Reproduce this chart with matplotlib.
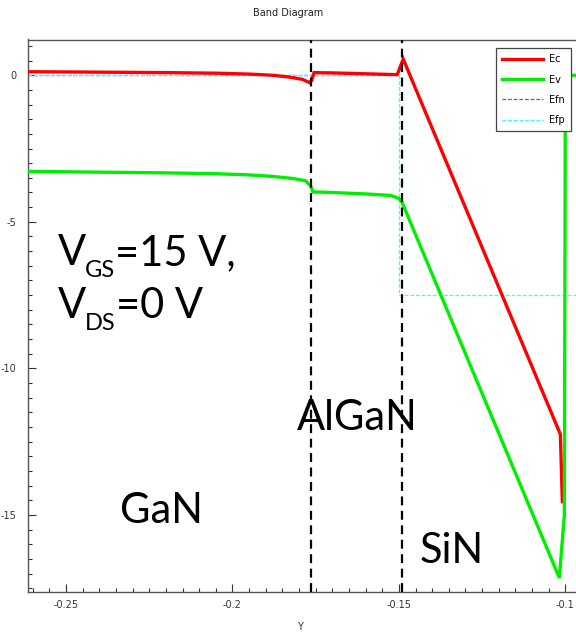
import matplotlib
matplotlib.use("Agg")
import matplotlib.pyplot as plt
from matplotlib.ticker import MultipleLocator, FixedLocator
from matplotlib.lines import Line2D
from matplotlib.transforms import offset_copy

# ---- data ----
ec_x = [-0.2615, -0.245, -0.22, -0.205, -0.195, -0.188, -0.183, -0.179, -0.1768, -0.1762, -0.1755, -0.170, -0.160, -0.1505, -0.1487, -0.1015, -0.1009]
ec_y = [0.12, 0.11, 0.09, 0.07, 0.04, 0.0, -0.06, -0.14, -0.25, -0.18, 0.09, 0.08, 0.05, 0.02, 0.55, -12.25, -14.55]

ev_x = [-0.2615, -0.245, -0.22, -0.205, -0.195, -0.188, -0.182, -0.178, -0.1765, -0.1758, -0.170, -0.160, -0.1525, -0.1500, -0.1490, -0.1018, -0.1003, -0.1000, -0.0920]
ev_y = [-3.28, -3.30, -3.33, -3.36, -3.40, -3.45, -3.52, -3.60, -3.78, -3.98, -4.00, -4.05, -4.10, -4.20, -4.35, -17.15, -15.0, 0.0, 0.0]

efn_x = [-0.2615, -0.1499]
efn_y = [0.0, 0.0]

efp_x = [-0.2615, -0.1499, -0.1499, -0.0920]
efp_y = [0.0, 0.0, -7.5, -7.5]

interfaces = [-0.1763, -0.1492]

x_ticks = [-0.25, -0.2, -0.15, -0.1]
x_ticklabels = ["-0.25", "-0.2", "-0.15", "-0.1"]
y_ticks = [0, -5, -10, -15]
y_ticklabels = ["0", "-5", "-10", "-15"]

W, H = 576, 633
fig = plt.figure(figsize=(W / 100, H / 100), dpi=100)
left_px, right_px, top_px, bot_px = 27.7, 592, 39.5, 592
ax = fig.add_axes([left_px / W, 1 - bot_px / H, (right_px - left_px) / W, (bot_px - top_px) / H])

ax.plot(efn_x, efn_y, color="#5555ff", lw=0.9, ls=(0, (3, 1.5)), zorder=2)
ax.plot(efp_x, efp_y, color="#33ffff", lw=0.9, ls=(0, (3, 1.5)), zorder=2)
ax.plot(ec_x, ec_y, color="#ff0000", lw=2.4, zorder=3, solid_joinstyle="miter")
ax.plot(ev_x, ev_y, color="#00ee00", lw=2.4, zorder=3, solid_joinstyle="miter")
for xv in interfaces:
    ax.axvline(xv, color="black", lw=1.6, ls=(0, (4, 2.5)), zorder=4)

ax.set_xlim(-0.2615, -0.0920)
ax.set_ylim(-17.63, 1.22)

ax.xaxis.set_major_locator(FixedLocator(x_ticks))
ax.set_xticklabels(x_ticklabels)
ax.xaxis.set_minor_locator(MultipleLocator(0.005))
ax.yaxis.set_major_locator(FixedLocator(y_ticks))
ax.set_yticklabels(y_ticklabels)
ax.yaxis.set_minor_locator(MultipleLocator(0.5))
ax.tick_params(which="both", direction="in", colors="#333333", labelsize=7, width=0.8,
               top=False, right=False)
ax.tick_params(which="major", length=6)
ax.tick_params(axis="x", which="major", pad=6)
ax.tick_params(axis="y", which="major", pad=8)
ax.tick_params(which="minor", length=3)
for s in ax.spines.values():
    s.set_color("#555555")
    s.set_linewidth(1.0)

fig.text(300 / W, 1 - 627 / H, "Y", ha="center", va="center", fontsize=7, color="#333333")
fig.text(0.5, 1 - 13 / H, "Band Diagram", ha="center", va="center", fontsize=7, color="#222222")

big = dict(fontsize=30, family="Lato", color="black", va="baseline", ha="left", zorder=5)
small = dict(big, fontsize=17)
renderer = fig.canvas.get_renderer()


def px_to_pt(v):
    return v * 72.0 / fig.dpi


def sub_text(x, y, main, sub, rest):
    t1 = ax.text(x, y, main, **big)
    w1 = t1.get_window_extent(renderer).width
    tr2 = offset_copy(ax.transData, fig=fig, x=px_to_pt(w1 - 1), y=px_to_pt(-12), units="points")
    t2 = ax.text(x, y, sub, transform=tr2, **small)
    w2 = t2.get_window_extent(renderer).width
    tr3 = offset_copy(ax.transData, fig=fig, x=px_to_pt(w1 + w2 - 1), y=0, units="points")
    ax.text(x, y, rest, transform=tr3, **big)


sub_text(-0.2524, -6.48, "V", "GS", "=15 V,")
sub_text(-0.2524, -8.28, "V", "DS", "=0 V")
ax.text(-0.1805, -12.1, "AlGaN", **big)
ax.text(-0.2337, -15.27, "GaN", **big)
ax.text(-0.1437, -16.64, "SiN", **big)

handles = [
    Line2D([], [], color="#ff0000", lw=2.4),
    Line2D([], [], color="#00ee00", lw=2.4),
    Line2D([], [], color="#5555ff", lw=0.9, ls=(0, (3, 1.5))),
    Line2D([], [], color="#33ffff", lw=0.9, ls=(0, (3, 1.5))),
]
leg = fig.legend(handles, ["Ec", "Ev", "Efn", "Efp"], loc="upper left",
                 bbox_to_anchor=(496 / W, 1 - 48 / H), bbox_transform=fig.transFigure,
                 fontsize=7, handlelength=4.2, labelspacing=1.05, borderaxespad=0,
                 fancybox=False, framealpha=1, edgecolor="#444444", borderpad=0.65,
                 handletextpad=0.6)
leg.get_frame().set_linewidth(0.9)

fig.savefig("out.png", dpi=100)
